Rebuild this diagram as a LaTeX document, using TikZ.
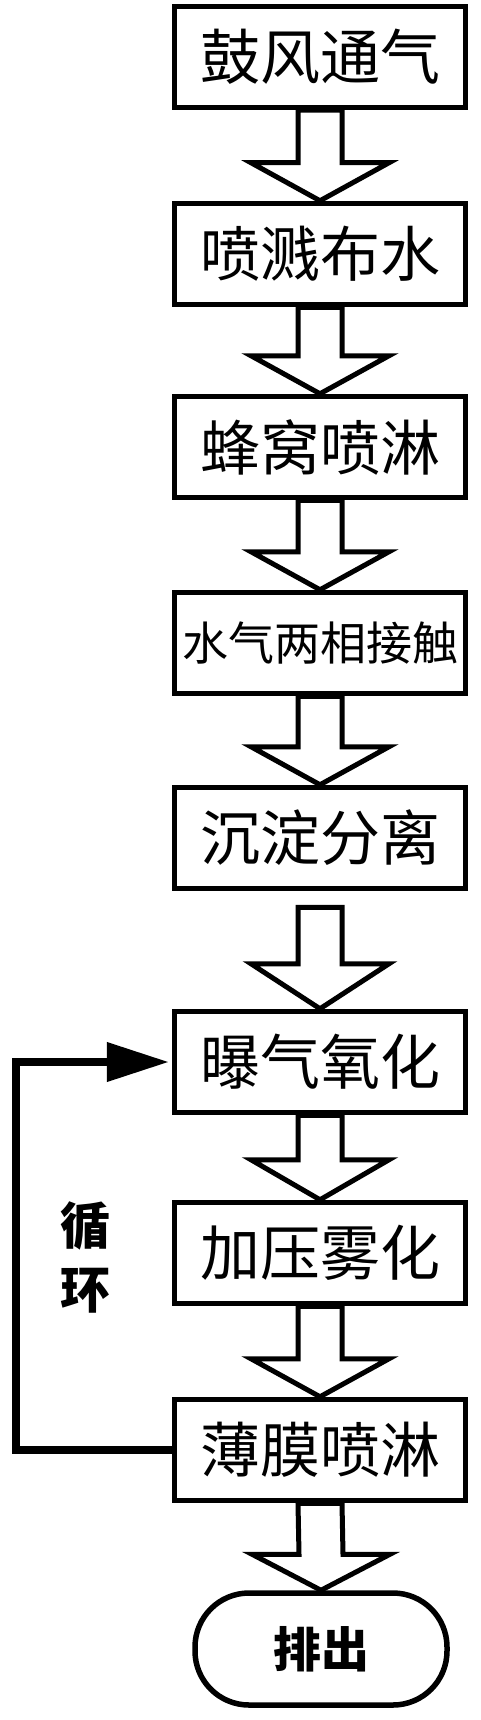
\documentclass[tikz,border=0pt]{standalone}
\usepackage{fontspec}
\newfontfamily\cjk{Noto Sans CJK SC}
\usetikzlibrary{arrows.meta,calc}
\newcommand\myblockarrow[4]{%
  \draw[barrow] ($(#1.south)+(-22,#3)$) -- ($(#2.north)+(-22,-#4)$) -- ($(#2.north)+(-69,-#4)$) -- (#2.north) -- ($(#2.north)+(69,-#4)$) -- ($(#2.north)+(22,-#4)$) -- ($(#1.south)+(22,#3)$) -- cycle;}
\begin{document}
\begin{tikzpicture}[x=1pt,y=-1pt,
  stepbox/.style={draw, line width=5.5pt, minimum width=291pt, minimum height=101pt, inner sep=0pt, font=\cjk\fontsize{60}{60}\selectfont},
  smalltext/.style={font=\cjk\fontsize{46}{46}\selectfont},
  endbox/.style={draw, line width=5.5pt, rounded corners=54pt, minimum width=252pt, minimum height=112pt, inner sep=0pt, font=\cjk\bfseries\fontsize{48}{48}\selectfont},
  looplabel/.style={align=center, inner sep=0pt, font=\cjk\bfseries\fontsize{50}{64}\selectfont},
  barrow/.style={draw, line width=5pt, line join=miter},
  loopline/.style={draw, line width=7.5pt, line join=miter}]
\useasboundingbox (0,0) rectangle (480,1720);
\node[stepbox] (s1) at (320,57) {鼓风通气};
\node[stepbox] (s2) at (320,254) {喷溅布水};
\node[stepbox] (s3) at (320,447) {蜂窝喷淋};
\node[stepbox, smalltext] (s4) at (320,643) {水气两相接触};
\node[stepbox] (s5) at (320,838) {沉淀分离};
\node[stepbox] (s6) at (320,1062) {曝气氧化};
\node[stepbox] (s7) at (320,1253) {加压雾化};
\node[stepbox] (s8) at (320,1450) {薄膜喷淋};
\node[endbox] (out) at (321,1649) {排出};
\node[looplabel] (lbl) at (85,1257) {循\\环};
\myblockarrow{s1}{s2}{0}{38}
\myblockarrow{s2}{s3}{0}{38}
\myblockarrow{s3}{s4}{0}{38}
\myblockarrow{s4}{s5}{0}{38}
\myblockarrow{s5}{s6}{16}{45}
\myblockarrow{s6}{s7}{0}{40}
\myblockarrow{s7}{s8}{0}{38}
\myblockarrow{s8}{out}{0}{36}
\coordinate (lc) at (16,1062);
\draw[loopline, -{Triangle[length=62pt,width=38pt]}, shorten >=3pt] (s8.west) -| (lc) -- (s6.west);
\end{tikzpicture}
\end{document}
